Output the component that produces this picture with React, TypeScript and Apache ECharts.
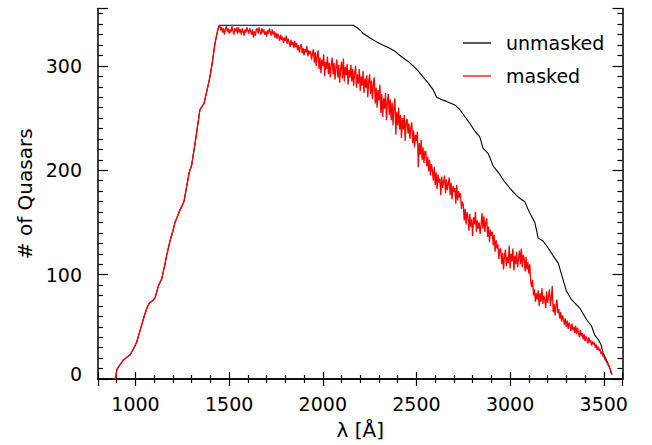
import React, { useEffect, useRef } from 'react';
import * as echarts from 'echarts';

// Shared rising part (both curves coincide)
const riseLambda = [882, 895, 900, 915, 935, 955, 971, 990, 1006, 1030, 1050, 1063, 1075, 1092, 1105, 1122, 1140, 1155, 1166, 1184, 1200, 1211, 1238, 1259, 1273, 1287, 1300, 1320, 1344, 1366, 1380, 1397, 1410, 1424, 1440, 1447];
const riseCount = [0, 1, 9, 13, 18, 21, 23, 29, 35, 50, 62, 69, 73, 75, 78, 89, 96, 108, 118, 132, 142, 150, 162, 170, 184, 198, 205, 228, 258, 264, 275, 289, 303, 321, 335, 339];

// Unmasked (black) after the plateau
const unmaskedLambda = [2162, 2180, 2200, 2216, 2250, 2288, 2320, 2358, 2385, 2412, 2450, 2483, 2510, 2537, 2565, 2590, 2608, 2630, 2660, 2687, 2710, 2732, 2760, 2785, 2810, 2838, 2856, 2883, 2910, 2945, 2970, 2998, 3034, 3060, 3078, 3095, 3105, 3132, 3150, 3177, 3205, 3230, 3257, 3283, 3301, 3328, 3350, 3372, 3408, 3434, 3452, 3470, 3485, 3497, 3515, 3530, 3540];
const unmaskedCount = [339, 337, 334, 331, 327, 323, 320, 317, 314, 310, 305, 300, 295, 289, 283, 277, 270, 268, 266, 264, 262, 258, 251, 245, 238, 232, 221, 216, 204, 196, 189, 183, 176, 172, 170, 163, 159, 150, 135, 132, 125, 118, 111, 95, 84, 76, 72, 68, 57, 51, 42, 38, 33, 25, 18, 12, 5];

// Masked (red) on a 5 Å grid from 1450 Å
const maskedStart = 1450;
const maskedStep = 5;
const maskedCount = [
  339, 334, 337, 332, 336, 330, 335, 338, 333, 336, 331, 335, 332, 338, 334, 330, 336, 333, 337, 331,
  337, 332, 335, 330, 336, 333, 329, 335, 332, 337, 334, 331, 336, 333, 330, 335, 327, 333, 329, 335,
  336, 331, 337, 333, 330, 336, 332, 335, 330, 333, 328, 334, 331, 336, 332, 329, 335, 330, 333, 327,
  332, 326, 331, 328, 324, 330, 325, 328, 322, 327, 324, 329, 321, 326, 323, 318, 325, 320, 323, 317,
  324, 318, 322, 315, 320, 313, 318, 321, 312, 317, 310, 316, 313, 319, 309, 315, 311, 314, 306, 312,
  316, 303, 313, 300, 310, 315, 297, 308, 293, 306, 300, 311, 290, 304, 297, 309, 292, 303, 289, 301,
  308, 292, 303, 287, 299, 306, 289, 301, 284, 297, 304, 288, 307, 285, 299, 291, 302, 282, 296, 289,
  301, 285, 297, 281, 293, 300, 279, 292, 283, 297, 276, 290, 281, 295, 274, 288, 279, 291, 270, 285,
  292, 273, 286, 268, 283, 289, 264, 279, 260, 277, 267, 282, 255, 273, 251, 269, 259, 274, 248, 266,
  273, 253, 268, 248, 265, 243, 261, 269, 234, 256, 243, 260, 239, 253, 231, 250, 239, 253, 228, 247,
  249, 235, 245, 230, 241, 246, 226, 238, 222, 234, 228, 237, 203, 226, 215, 229, 210, 222, 207, 218,
  218, 204, 213, 199, 210, 195, 206, 200, 190, 203, 186, 198, 182, 196, 188, 192, 176, 194, 183, 189,
  195, 178, 191, 181, 187, 193, 176, 188, 172, 185, 179, 183, 168, 186, 171, 180, 174, 178, 163, 170,
  167, 152, 163, 148, 160, 155, 142, 158, 146, 153, 137, 155, 148, 160, 141, 152, 144, 150, 139, 147,
  159, 144, 156, 141, 150, 154, 136, 146, 131, 143, 137, 141, 128, 138, 122, 133, 125, 129, 115, 124,
  125, 110, 121, 105, 118, 124, 108, 117, 111, 128, 106, 120, 113, 125, 104, 118, 110, 122, 107, 115,
  123, 110, 125, 107, 119, 115, 103, 117, 105, 112, 101, 110, 93, 88, 95, 80, 86, 74, 82, 76,
  85, 70, 82, 74, 87, 72, 80, 76, 68, 84, 73, 79, 86, 70, 77, 89, 64, 72, 61, 70,
  76, 63, 67, 58, 64, 55, 61, 57, 52, 58, 50, 56, 48, 54, 51, 46, 53, 47, 50, 44,
  51, 43, 49, 45, 40, 47, 41, 44, 38, 43, 36, 41, 38, 34, 40, 35, 37, 32, 36, 33,
  35, 30, 33, 28, 31, 27, 29, 24, 26, 22, 22, 19, 18, 16, 15, 13, 11, 9, 7, 4,
];

const seriesNames = ['unmasked', 'masked'];
const xName = 'λ [Å]';
const yName = '# of Quasars';

const FONT = 'DejaVu Sans';
const WEIGHT = 400;

export default function App() {
  const ref = useRef<HTMLDivElement>(null);
  useEffect(() => {
    if (!ref.current) return;
    const chart = echarts.init(ref.current, undefined, { renderer: 'svg' });
    const rise = riseLambda.map((l, i) => [l, riseCount[i]]);
    const unmasked = rise.concat(unmaskedLambda.map((l, i) => [l, unmaskedCount[i]]));
    const masked = rise.slice(0, -1).concat(maskedCount.map((v, i) => [maskedStart + maskedStep * i, v]));

    const axisLine = { show: true, lineStyle: { color: '#000', width: 1.5 } };
    const xTick = { show: true, inside: true, length: 7, lineStyle: { color: '#000', width: 1.2 } };
    const xMinor = { show: true, splitNumber: 5, length: 4, lineStyle: { color: '#000', width: 1.2 } };
    const yTick = { show: true, inside: true, length: 10, lineStyle: { color: '#000', width: 1.2 } };
    const yMinor = { show: true, splitNumber: 10, length: 5, lineStyle: { color: '#000', width: 1.2 } };
    const labelStyle = { color: '#000', fontFamily: FONT, fontSize: 19, fontWeight: WEIGHT };

    chart.setOption({
      animation: false,
      backgroundColor: '#fff',
      grid: { left: 98, right: 29.5, top: 8.5, bottom: 65, containLabel: false },
      legend: {
        orient: 'vertical',
        left: 458,
        top: 28,
        icon: 'rect',
        itemWidth: 28,
        itemHeight: 1.3,
        itemGap: 13,
        data: seriesNames,
        textStyle: { ...labelStyle, lineHeight: 20, padding: [0, 0, 0, 10] },
        selectedMode: false,
      },
      xAxis: [
        {
          type: 'value', min: 800, max: 3600, splitNumber: 5,
          name: xName, nameLocation: 'middle', nameGap: 41,
          nameTextStyle: { color: '#000', fontFamily: FONT, fontSize: 20, fontWeight: WEIGHT },
          axisLine, axisTick: xTick, minorTick: xMinor,
          axisLabel: { ...labelStyle, margin: 15, showMinLabel: false, showMaxLabel: false, formatter: (v: number) => String(v) },
          splitLine: { show: false },
        },
        {
          type: 'value', min: 800, max: 3600, splitNumber: 5, position: 'top',
          axisLine, axisTick: xTick, minorTick: xMinor,
          axisLabel: { show: false }, splitLine: { show: false },
        },
      ],
      yAxis: [
        {
          type: 'value', min: 0, max: 355, interval: 100,
          name: yName, nameLocation: 'middle', nameGap: 60,
          nameTextStyle: { color: '#000', fontFamily: FONT, fontSize: 20, fontWeight: WEIGHT },
          axisLine, axisTick: yTick, minorTick: yMinor,
          axisLabel: {
            ...labelStyle, margin: 16, showMaxLabel: false,
            formatter: (v: number) => (v === 0 ? '{z|0}' : String(v)),
            rich: { z: { fontFamily: FONT, fontSize: 19, fontWeight: WEIGHT, color: '#000', padding: [0, 0, 10, 0] } },
          },
          splitLine: { show: false },
        },
        {
          type: 'value', min: 0, max: 355, interval: 100, position: 'right',
          axisLine, axisTick: yTick, minorTick: yMinor,
          axisLabel: { show: false }, splitLine: { show: false },
        },
      ],
      series: [
        {
          name: seriesNames[0], type: 'line', data: unmasked, showSymbol: false, symbol: 'none',
          xAxisIndex: 0, yAxisIndex: 0,
          lineStyle: { color: '#000', width: 1.1 }, itemStyle: { color: '#000' }, z: 2,
        },
        {
          name: seriesNames[1], type: 'line', data: masked, showSymbol: false, symbol: 'none',
          xAxisIndex: 0, yAxisIndex: 0,
          lineStyle: { color: '#ff0000', width: 1.3 }, itemStyle: { color: '#ff0000' }, z: 3,
        },
      ],
    });
    return () => chart.dispose();
  }, []);
  return <div ref={ref} style={{ position: 'fixed', left: 0, top: 0, width: 652, height: 445 }} />;
}
